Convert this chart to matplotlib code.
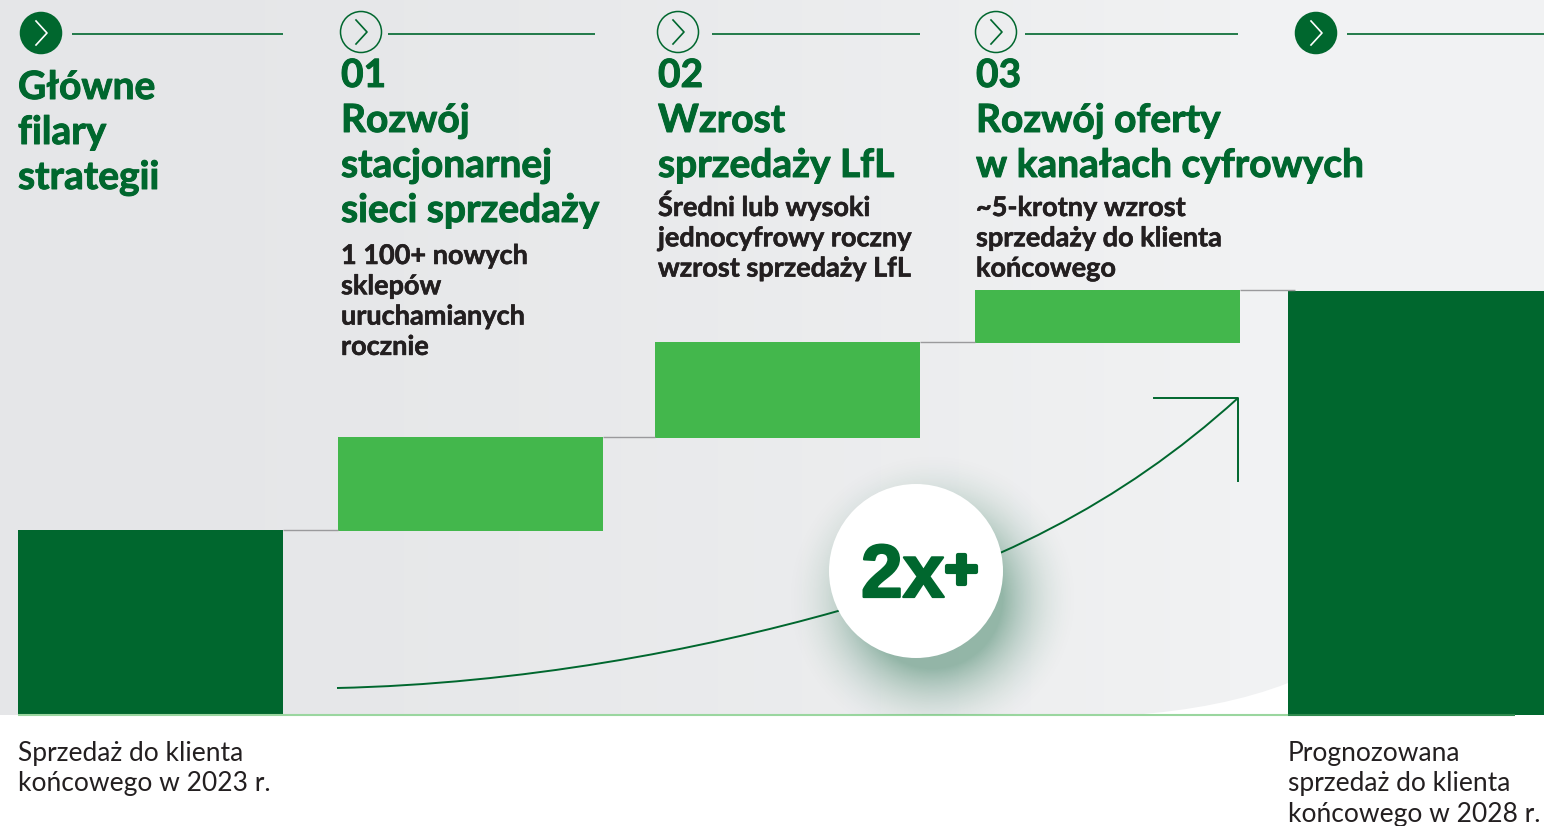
import numpy as np
import matplotlib
matplotlib.use("Agg")
import matplotlib.pyplot as plt
import matplotlib.patheffects as pe
from matplotlib.patches import Circle, PathPatch
from matplotlib.path import Path

DARK = '#00672e'
GREEN = '#43b74c'
INK = '#231f20'

# bar heights (baseline = 0)
start_value = [185]
step_values = [93, 95, 52]
end_value = [424]

headers = ['Główne\nfilary\nstrategii', '01\nRozwój\nstacjonarnej\nsieci sprzedaży',
           '02\nWzrost\nsprzedaży LfL', '03\nRozwój oferty\nw kanałach cyfrowych']
details = ['', '1 100+ nowych\nsklepów\nuruchamianych\nrocznie',
           'Średni lub wysoki\njednocyfrowy roczny\nwzrost sprzedaży LfL',
           '~5-krotny wzrost\nsprzedaży do klienta\nkońcowego']
left_note = 'Sprzedaż do klienta\nkońcowego w 2023 r.'
right_note = 'Prognozowana\nsprzedaż do klienta\nkońcowego w 2028 r.'

plt.rcParams['font.family'] = ['Lato', 'DejaVu Sans']

fig = plt.figure(figsize=(15.44, 8.26), dpi=100)
ax = fig.add_axes([0, 0, 1, 1])
BASE = 715
ax.axis('off')


def py(y):
    return BASE - y


# background gradient
grad = np.linspace(0, 1, 256)[None, :, None]
c0 = np.array([229, 230, 232]) / 255
c1 = np.array([241, 242, 243]) / 255
ax.imshow(c0 + (c1 - c0) * np.clip(grad * 1.25, 0, 1) ** 1.6, extent=(0, 1544, 0, BASE),
          aspect='auto', zorder=0)

# white corner at the bottom right
corner = Path([(1130, py(715)), (1190, py(711)), (1245, py(700)), (1288, py(683)),
               (1288, py(715)), (1130, py(715))],
              [Path.MOVETO, Path.CURVE4, Path.CURVE4, Path.CURVE4, Path.LINETO, Path.CLOSEPOLY])
ax.add_patch(PathPatch(corner, fc='white', ec='none', zorder=1))

# bars, the green steps reach 1 px below the step before them
x_left = [18, 338, 655, 975, 1288]
x_right = [283, 603, 920, 1240, 1544]
bottoms = [0]
for i in range(len(step_values)):
    bottoms.append(sum(start_value) + sum(step_values[:i]))
bottoms.append(0)
heights = start_value + step_values + end_value
colors = [DARK, GREEN, GREEN, GREEN, DARK]
for i, (l, r, b, h, c) in enumerate(zip(x_left, x_right, bottoms, heights, colors)):
    drop = 1 if c == GREEN else 0
    ax.bar(l, h + drop, width=r - l, bottom=b - drop, align='edge', color=c, lw=0, zorder=2)

# grey connectors between the steps
tops = [b + h for b, h in zip(bottoms, heights)]
for i in range(4):
    ax.plot([x_right[i], x_left[i + 1] + (7 if i == 3 else 0)], [tops[i], tops[i]],
            color='#9a9a9c', lw=1, zorder=3, solid_capstyle='butt')

# baseline
ax.plot([18, 1288], [0, 0], color='#9ad69f', lw=1.5, zorder=3, solid_capstyle='butt')
ax.plot([1288, 1515], [0, 0], color='#2f8a4e', lw=1.5, zorder=3, solid_capstyle='butt')

# icons with the rule beside them
icons = [(41, 33, True, 72, 283), (361, 32, False, 388, 595), (678, 32, False, 712, 920),
         (996, 32, False, 1025, 1238), (1316, 33, True, 1347, 1544)]
for cx, cy, filled, x0, x1 in icons:
    ax.add_patch(Circle((cx, py(cy)), 20.5, fc=DARK if filled else 'none', ec=DARK, lw=1.1, zorder=3))
    chev = 'white' if filled else DARK
    ax.plot([cx - 5, cx + 6, cx - 5], [py(cy - 12), py(cy), py(cy + 12)], color=chev, lw=1.2, zorder=4)
    ax.plot([x0, x1], [py(34), py(34)], color=DARK, lw=1.2, zorder=3, solid_capstyle='butt')

# growth curve and arrow head
curve = Path([(337, py(688)), (520, py(684)), (700, py(650)), (838, py(611)),
              (990, py(568)), (1120, py(505)), (1238, py(398))],
             [Path.MOVETO] + [Path.CURVE4] * 6)
ax.add_patch(PathPatch(curve, fc='none', ec=DARK, lw=1.4, zorder=3))
ax.plot([1154, 1238, 1238], [py(398), py(398), py(481)], color=DARK, lw=1.4, zorder=3)

# soft shadow under the badge
xx, yy = np.meshgrid(np.arange(760, 1110), np.arange(430, 760))
dist = np.hypot(xx - 932, yy - 598)
alpha = 0.38 * np.clip((150 - dist) / 80, 0, 1) ** 2
shadow = np.zeros(xx.shape + (4,))
shadow[..., :3] = np.array([0, 90, 50]) / 255
shadow[..., 3] = alpha * (yy < 715)
ax.imshow(shadow, extent=(760, 1110, py(760), py(430)), aspect='auto', zorder=3.5, interpolation='bilinear')
ax.add_patch(Circle((916, py(571)), 87, fc='white', ec='none', zorder=4))
badge_fx = [pe.withStroke(linewidth=1.6, foreground=DARK)]
ax.text(861, py(597), '2x', color=DARK, fontsize=54, fontweight='bold', family='Liberation Sans',
        va='baseline', zorder=5, path_effects=badge_fx)
ax.text(945, py(588), '+', color=DARK, fontsize=41, fontweight='bold', family='Liberation Sans',
        va='baseline', zorder=5, path_effects=[pe.withStroke(linewidth=3, foreground=DARK)])


def block(x, y, s, size, color, weight, step, stroke=0):
    effects = [pe.withStroke(linewidth=stroke, foreground=color)] if stroke else None
    for i, line in enumerate(s.split('\n')):
        ax.text(x, py(y + i * step), line, color=color, fontsize=size, fontweight=weight,
                va='baseline', ha='left', zorder=5, path_effects=effects)


# headers and details
head_x = [18, 341, 658, 976]
head_y = [99, 87, 87, 87]
detail_y = [0, 264, 216, 216]
for x, y, yd, h, d in zip(head_x, head_y, detail_y, headers, details):
    block(x, y, h, 28, DARK, 'bold', 45, stroke=0.7)
    if d:
        block(x, yd, d, 19.5, INK, 'bold', 30.3, stroke=0.4)

block(18, 761, left_note, 19, INK, 'normal', 30.3)
block(1288, 761, right_note, 19, INK, 'normal', 30.3)

ax.set_xlim(0, 1544)
ax.set_ylim(BASE - 826, BASE)
fig.savefig('out.png', dpi=100)
